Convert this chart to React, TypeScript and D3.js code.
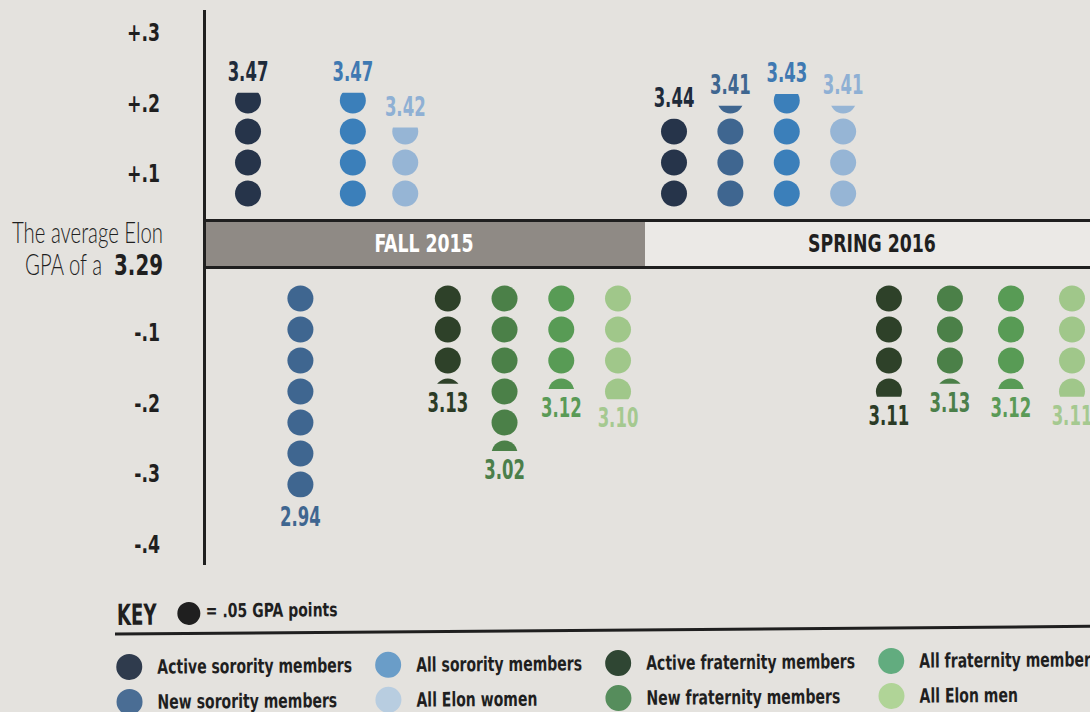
import React from "react";
import * as d3 from "d3";

// GPA comparison against the Elon average, one dot = .05 GPA points
const baselineGpa = 3.29;
const semesters = ["FALL 2015", "SPRING 2016"];
const groups = [
  "Active sorority members",
  "New sorority members",
  "All sorority members",
  "All Elon women",
  "Active fraternity members",
  "New fraternity members",
  "All fraternity members",
  "All Elon men",
];
const fallGpa = [3.47, 2.94, 3.47, 3.42, 3.13, 3.02, 3.12, 3.1];
const springGpa = [3.44, 3.41, 3.43, 3.41, 3.11, 3.13, 3.12, 3.11];
// dots as drawn in the graphic (full dots + fraction of the last one)
const fallDots = [3.8, 7.0, 3.8, 2.65, 3.2, 5.4, 3.4, 3.8];
const springDots = [3.0, 3.3, 3.75, 3.3, 3.7, 3.2, 3.4, 3.7];
const tickValues = [0.3, 0.2, 0.1, -0.1, -0.2, -0.3, -0.4];

const dotColors = ["#26344a", "#3f6690", "#3b7fba", "#96b5d5", "#2e4129", "#4b8048", "#589b55", "#a0c78a"];
const labelColors = ["#1f2b3b", "#3f6690", "#3f79b2", "#8fb0d4", "#2b3b26", "#4b7f4a", "#5a9a56", "#a5c990"];
const legendColors = ["#2f3b4d", "#4a6d94", "#6a9dc8", "#b8cde0", "#2f4633", "#568d5c", "#62ac7f", "#b0d497"];

const W = 1090;
const H = 712;
const BG = "#e4e2de";
const INK = "#1f1f1f";
const FONT = "'Liberation Sans Narrow', 'DejaVu Sans Condensed', 'Arial Narrow', sans-serif";

const R = 13;
const PITCH = 31;
const UP_BASE = 209;
const DOWN_BASE = 283;

const upCenter = d3.scaleLinear().domain([0, 1]).range([UP_BASE - PITCH / 2, UP_BASE - PITCH * 1.5]);
const downCenter = d3.scaleLinear().domain([0, 1]).range([DOWN_BASE + PITCH / 2, DOWN_BASE + PITCH * 1.5]);

const tickUp = d3.scaleLinear().domain([0.1, 0.3]).range([174, 33]);
const tickDown = d3.scaleLinear().domain([-0.1, -0.4]).range([333, 545]);
const fmtTick = (v: number) => (v > 0 ? "+" : "-") + d3.format(".1f")(Math.abs(v)).replace(/^0/, "");

const semX = d3.scaleOrdinal<string, [number, number]>().domain(semesters).range([
  [248, 618],
  [674, 1072],
]);

// condensed text: squeeze the fallback font horizontally
function CText({ x, y, sx = 0.7, children, ...rest }: any) {
  return (
    <text transform={`translate(${x},${y}) scale(${sx},1)`} {...rest}>
      {children}
    </text>
  );
}

let ctx: CanvasRenderingContext2D | null = null;
function textWidth(s: string, size: number, sx: number) {
  if (!ctx) ctx = document.createElement("canvas").getContext("2d");
  if (!ctx) return s.length * size * 0.5 * sx;
  ctx.font = `bold ${size}px 'DejaVu Sans Condensed', sans-serif`;
  return ctx.measureText(s).width * sx;
}

function columnX(sem: string, i: number) {
  const [a, b] = semX(sem);
  const w = b - a;
  const sor = d3.scalePoint<string>().domain(groups.slice(0, 4)).range([a, a + w * 0.425]);
  const fra = d3.scalePoint<string>().domain(groups.slice(4)).range([a + w * 0.54, b]);
  return i < 4 ? sor(groups[i])! : fra(groups[i])!;
}

function Column({ sem, i, gpa, dots }: { sem: string; i: number; gpa: number; dots: number }) {
  const up = gpa > baselineGpa;
  const cx = columnX(sem, i);
  const n = Math.ceil(dots - 1e-9);
  const k = n - 1;
  const f = dots - k;
  const center = up ? upCenter : downCenter;
  const clipY = up ? center(k) + R - f * 2 * R : center(k) - R + f * 2 * R;
  const id = `clip-${semesters.indexOf(sem)}-${i}`;
  const rect = up
    ? { y: clipY, height: UP_BASE - clipY + 6 }
    : { y: DOWN_BASE - 6, height: clipY - DOWN_BASE + 6 };
  return (
    <g>
      <clipPath id={id}>
        <rect x={cx - R - 2} width={2 * R + 4} {...rect} />
      </clipPath>
      <g clipPath={`url(#${id})`}>
        {d3.range(n).map((j) => (
          <circle key={j} cx={cx} cy={center(j)} r={R} fill={dotColors[i]} />
        ))}
      </g>
      <CText
        x={cx}
        y={up ? clipY - 12 : clipY + 28}
        sx={0.68}
        textAnchor="middle"
        fontSize={27}
        fontWeight="bold"
        fill={labelColors[i]}
      >
        {d3.format(".2f")(gpa)}
      </CText>
    </g>
  );
}

export default function App() {
  const series = [fallGpa, springGpa];
  const dotSeries = [fallDots, springDots];

  // legend columns laid out by the width of their longest label
  const LEG_SIZE = 20;
  const LEG_SX = 0.78;
  const legendCols = d3.range(4).map((c) => groups.slice(c * 2, c * 2 + 2));
  const colWidths = legendCols.map((items) => d3.max(items, (s) => textWidth(s, LEG_SIZE, LEG_SX)) || 0);
  const legendX: number[] = [];
  colWidths.forEach((w, c) => {
    legendX.push(c === 0 ? 129 : legendX[c - 1] + 28 + colWidths[c - 1] + 36);
  });

  return (
    <svg
      width={W}
      height={H}
      style={{ position: "absolute", left: 0, top: 0, background: BG }}
      fontFamily={FONT}
    >
      <rect width={W} height={H} fill={BG} />

      {/* y ticks */}
      {tickValues.map((v) => (
        <CText
          key={v}
          x={160}
          y={(v > 0 ? tickUp(v) : tickDown(v)) + 8}
          sx={0.8}
          textAnchor="end"
          fontSize={24}
          fontWeight="bold"
          fill={INK}
        >
          {fmtTick(v)}
        </CText>
      ))}

      <text
        x={163}
        y={243}
        textAnchor="end"
        fontFamily="Lato, 'DejaVu Sans', sans-serif"
        fontWeight={300}
        fontSize={29}
        fill={INK}
        textLength={151}
        lengthAdjust="spacingAndGlyphs"
      >
        The average Elon
      </text>
      <text
        x={102}
        y={275}
        textAnchor="end"
        fontFamily="Lato, 'DejaVu Sans', sans-serif"
        fontWeight={300}
        fontSize={29}
        fill={INK}
        textLength={77}
        lengthAdjust="spacingAndGlyphs"
      >
        GPA of a
      </text>
      <CText x={163} y={275} sx={0.76} textAnchor="end" fontSize={29} fontWeight="bold" fill={INK}>
        {d3.format(".2f")(baselineGpa)}
      </CText>

      {/* semester band */}
      <rect x={205} y={221} width={645 - 205} height={46} fill="#8f8a85" />
      <rect x={645} y={221} width={W - 645} height={46} fill="#ebe9e6" />
      <line x1={203} x2={W} y1={220.5} y2={220.5} stroke={INK} strokeWidth={3} />
      <line x1={203} x2={W} y1={267.5} y2={267.5} stroke={INK} strokeWidth={3} />
      <CText x={424} y={252} sx={0.77} textAnchor="middle" fontSize={25} fontWeight="bold" fill="#ffffff">
        {semesters[0]}
      </CText>
      <CText x={872} y={252} sx={0.77} textAnchor="middle" fontSize={25} fontWeight="bold" fill={INK}>
        {semesters[1]}
      </CText>

      {/* axis */}
      <line x1={204.5} x2={204.5} y1={10} y2={565} stroke={INK} strokeWidth={3} />

      {semesters.map((sem, s) =>
        groups.map((g, i) => (
          <Column key={sem + g} sem={sem} i={i} gpa={series[s][i]} dots={dotSeries[s][i]} />
        ))
      )}

      {/* key */}
      <g transform="rotate(-0.45 115 634)">
        <CText x={117} y={625} sx={0.7} fontSize={29} fontWeight="bold" fill={INK}>
          KEY
        </CText>
        <circle cx={189} cy={614} r={11.5} fill={INK} />
        <CText x={206} y={618} sx={0.82} fontSize={19} fontWeight="bold" fill={INK}>
          = .05 GPA points
        </CText>
        <line x1={115} x2={W + 10} y1={634} y2={634} stroke={INK} strokeWidth={3} />
        {groups.map((g, i) => {
          const col = Math.floor(i / 2);
          const row = i % 2;
          const x = legendX[col];
          const y = 667 + row * 35;
          return (
            <g key={g}>
              <circle cx={x} cy={y} r={13} fill={legendColors[i]} />
              <CText x={x + 28} y={y + 7} sx={LEG_SX} fontSize={LEG_SIZE} fontWeight="bold" fill={INK}>
                {g}
              </CText>
            </g>
          );
        })}
      </g>
    </svg>
  );
}
